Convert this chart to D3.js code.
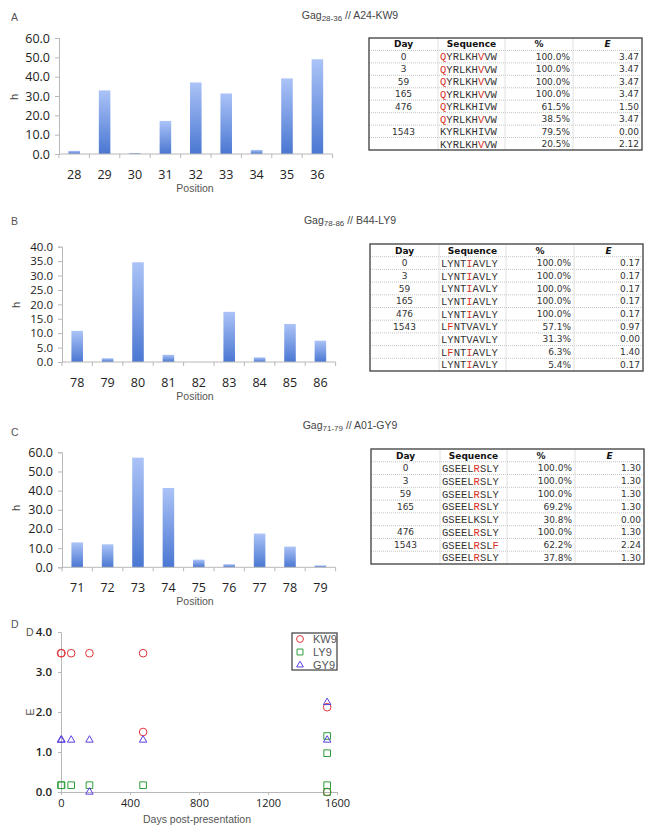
<!DOCTYPE html>
<html><head><meta charset="utf-8">
<script src="https://cdn.jsdelivr.net/npm/d3@7"></script>
<style>body{margin:0;background:#fff}svg{display:block}</style>
</head><body>
<svg id="c" width="654" height="832"></svg>
<script>
// ---------- DATA ----------
const posA = [28,29,30,31,32,33,34,35,36];
const hA   = [1.6,32.9,0.5,17.1,37.0,31.3,2.1,39.1,49.0];
const posB = [78,79,80,81,82,83,84,85,86];
const hB   = [10.8,1.3,34.6,2.5,0.0,17.4,1.6,13.2,7.4];
const posC = [71,72,73,74,75,76,77,78,79];
const hC   = [13.0,12.0,57.2,41.4,4.0,1.6,17.6,10.8,1.0];
const yTicksA = [0,10,20,30,40,50,60];
const yTicksB = [0,5,10,15,20,25,30,35,40];
const yTicksC = [0,10,20,30,40,50,60];

const headers = ["Day","Sequence","%","E"];
const dayA = ["0","3","59","165","476","","1543",""];
const seqA = ["QYRLKHVVW","QYRLKHVVW","QYRLKHVVW","QYRLKHVVW","QYRLKHIVW","QYRLKHVVW","KYRLKHIVW","KYRLKHVVW"];
const redA = [[0,6],[0,6],[0,6],[0,6],[0],[0,6],[],[6]];
const pctA = ["100.0%","100.0%","100.0%","100.0%","61.5%","38.5%","79.5%","20.5%"];
const eA   = [3.47,3.47,3.47,3.47,1.50,3.47,0.00,2.12];

const dayB = ["0","3","59","165","476","1543","","",""];
const seqB = ["LYNTIAVLY","LYNTIAVLY","LYNTIAVLY","LYNTIAVLY","LYNTIAVLY","LFNTVAVLY","LYNTVAVLY","LFNTIAVLY","LYNTIAVLY"];
const redB = [[4],[4],[4],[4],[4],[1],[],[1,4],[4]];
const pctB = ["100.0%","100.0%","100.0%","100.0%","100.0%","57.1%","31.3%","6.3%","5.4%"];
const eB   = [0.17,0.17,0.17,0.17,0.17,0.97,0.00,1.40,0.17];

const dayC = ["0","3","59","165","","476","1543",""];
const seqC = ["GSEELRSLY","GSEELRSLY","GSEELRSLY","GSEELRSLY","GSEELKSLY","GSEELRSLY","GSEELRSLF","GSEELRSLY"];
const redC = [[5],[5],[5],[5],[],[5],[5,8],[5]];
const pctC = ["100.0%","100.0%","100.0%","69.2%","30.8%","100.0%","62.2%","37.8%"];
const eC   = [1.30,1.30,1.30,1.30,0.00,1.30,2.24,1.30];

const seriesNames = ["KW9","LY9","GY9"];
const xTicksD = [0,400,800,1200,1600];
const yTicksD = [0,1,2,3,4];

// ---------- DRAW ----------
const svg = d3.select("#c");
const defs = svg.append("defs");
const grad = defs.append("linearGradient").attr("id","barg").attr("x1",0).attr("y1",0).attr("x2",0).attr("y2",1);
grad.append("stop").attr("offset","0%").attr("stop-color","#abc3f7");
grad.append("stop").attr("offset","100%").attr("stop-color","#4a77d2");

const tickFont = "'Open Sans', 'Liberation Sans', sans-serif";
const labFont = "'Liberation Sans', Arial, sans-serif";
const axisCol = "#b8b8b8";

function barPanel(o){
  const g = svg.append("g");
  const x = d3.scaleBand().domain(o.pos).range([o.x0, o.x0 + 30.4*o.pos.length]).paddingInner(0.62).paddingOuter(0.31);
  const y = d3.scaleLinear().domain([0, o.ymax]).range([o.y0, o.yTop]);
  g.selectAll("rect.bar").data(o.pos).join("rect")
    .attr("x", d => x(d)).attr("width", x.bandwidth())
    .attr("y", (d,i) => y(o.h[i])).attr("height", (d,i) => y(0) - y(o.h[i]))
    .attr("fill","url(#barg)");
  const ya = g.append("g").attr("transform",`translate(${o.x0},0)`)
    .call(d3.axisLeft(y).tickValues(o.ticks).tickFormat(d3.format(".1f")).tickSize(4).tickPadding(5));
  ya.select(".domain").attr("stroke",axisCol);
  ya.selectAll(".tick line").attr("stroke",axisCol);
  ya.selectAll("text").attr("font-family",tickFont).attr("font-size",o.yfs).attr("fill","#222");
  const xr = x.range();
  g.append("line").attr("x1",xr[0]).attr("x2",xr[1]).attr("y1",o.y0).attr("y2",o.y0).attr("stroke",axisCol);
  const step = x.step();
  g.selectAll("line.xt").data(d3.range(o.pos.length+1)).join("line")
    .attr("x1", i => xr[0] + i*step).attr("x2", i => xr[0] + i*step)
    .attr("y1", o.y0).attr("y2", o.y0+4).attr("stroke",axisCol);
  g.selectAll("text.xl").data(o.pos).join("text")
    .attr("x", d => x(d) + x.bandwidth()/2).attr("y", o.y0 + 25)
    .attr("text-anchor","middle").attr("font-family",tickFont).attr("font-size",12.5).attr("fill","#222")
    .text(d => d);
  g.append("text").attr("x",195).attr("y",o.y0+38).attr("text-anchor","middle")
    .attr("font-family",labFont).attr("font-size",10.5).attr("fill","#555").text("Position");
  g.append("text").attr("transform",`translate(${o.hx},${o.hy}) rotate(-90)`).attr("text-anchor","middle")
    .attr("dy","0.35em").attr("font-family",labFont).attr("font-size",11).attr("fill","#444").text("h");
  g.append("text").attr("x",11).attr("y",o.labY).attr("font-family",labFont).attr("font-size",10.5).attr("fill","#555").text(o.label);
  const t = g.append("text").attr("x",350).attr("y",o.titleY).attr("text-anchor","middle")
    .attr("font-family",labFont).attr("font-size",10.5).attr("fill","#444");
  t.append("tspan").text("Gag");
  t.append("tspan").attr("font-size",8).attr("dy",2).text(o.sub);
  t.append("tspan").attr("dy",-2).text(" // " + o.epi);
}

barPanel({pos:posA,h:hA,ymax:60,ticks:yTicksA,yfs:12.5,x0:59,y0:154,yTop:38,hx:14,hy:97,label:"A",labY:21,titleY:19,sub:"28-36",epi:"A24-KW9"});
barPanel({pos:posB,h:hB,ymax:40,ticks:yTicksB,yfs:11.5,x0:62,y0:362,yTop:246.7,hx:16,hy:305,label:"B",labY:225,titleY:224,sub:"78-86",epi:"B44-LY9"});
barPanel({pos:posC,h:hC,ymax:60,ticks:yTicksC,yfs:12.5,x0:62,y0:567.3,yTop:452.3,hx:16,hy:508,label:"C",labY:436,titleY:429,sub:"71-79",epi:"A01-GY9"});

function table(o){
  const g = svg.append("g");
  const n = o.day.length + 1;
  const widths = [69,67,68,69];
  const cols = [o.x];
  widths.forEach(w => cols.push(cols[cols.length-1] + w));
  const rh = (o.y1 - o.y0)/n;
  g.selectAll("line.h").data(d3.range(1,n)).join("line")
    .attr("x1",cols[0]).attr("x2",cols[4]).attr("y1",i=>o.y0+i*rh).attr("y2",i=>o.y0+i*rh)
    .attr("stroke","#b5b5b5").attr("stroke-width",0.8).attr("stroke-dasharray","1,1");
  g.selectAll("line.v").data([1,2,3]).join("line")
    .attr("x1",i=>cols[i]).attr("x2",i=>cols[i]).attr("y1",o.y0).attr("y2",o.y1)
    .attr("stroke","#d8d8d8").attr("stroke-width",0.8);
  g.append("rect").attr("x",cols[0]).attr("y",o.y0).attr("width",cols[4]-cols[0]).attr("height",o.y1-o.y0)
    .attr("fill","none").attr("stroke","#4a4a4a").attr("stroke-width",1.4);
  const numFont = "'DejaVu Sans', Verdana, sans-serif";
  headers.forEach((h,i) => {
    g.append("text").attr("x",(cols[i]+cols[i+1])/2).attr("y",o.y0+rh/2).attr("dy","0.36em")
      .attr("text-anchor","middle").attr("font-family",numFont).attr("font-weight","bold")
      .attr("font-style", h==="E" ? "italic" : "normal").attr("font-size",9).attr("fill","#111").text(h);
  });
  o.day.forEach((d,r) => {
    const cy = o.y0 + (r+1.5)*rh;
    g.append("text").attr("x",(cols[0]+cols[1])/2).attr("y",cy).attr("dy","0.36em").attr("text-anchor","middle")
      .attr("font-family",numFont).attr("font-size",9).attr("fill","#333").text(d);
    const st = g.append("text").attr("x",cols[1]+2).attr("y",cy).attr("dy","0.36em")
      .attr("font-family","'Liberation Mono','Courier New',monospace").attr("font-size",10.5);
    o.seq[r].split("").forEach((ch,k) => {
      st.append("tspan").attr("fill", o.red[r].includes(k) ? "#d9301e" : "#333").text(ch);
    });
    g.append("text").attr("x",cols[3]-3).attr("y",cy).attr("dy","0.36em").attr("text-anchor","end")
      .attr("font-family",numFont).attr("font-size",9).attr("fill","#333").text(o.pct[r]);
    g.append("text").attr("x",cols[4]-3).attr("y",cy).attr("dy","0.36em").attr("text-anchor","end")
      .attr("font-family",numFont).attr("font-size",9).attr("fill","#333").text(d3.format(".2f")(o.e[r]));
  });
}
table({x:369,y0:38,y1:150,day:dayA,seq:seqA,red:redA,pct:pctA,e:eA});
table({x:370,y0:244,y1:371,day:dayB,seq:seqB,red:redB,pct:pctB,e:eB});
table({x:371,y0:449,y1:564,day:dayC,seq:seqC,red:redC,pct:pctC,e:eC});

// ---------- PANEL D ----------
function toPoints(day, e){
  let last = null;
  return day.map((d,i) => { if (d !== "") last = +d; return {x:last, y:e[i]}; });
}
const series = [
  {name:seriesNames[0], pts:toPoints(dayA,eA), col:"#e0363a", sym:d3.symbolCircle, sz:46},
  {name:seriesNames[1], pts:toPoints(dayB,eB), col:"#2e9e3a", sym:d3.symbolSquare, sz:44},
  {name:seriesNames[2], pts:toPoints(dayC,eC), col:"#5a3fe0", sym:d3.symbolTriangle, sz:24}
];
const gD = svg.append("g");
const xD = d3.scaleLinear().domain([0,1600]).range([61,337]);
const yD = d3.scaleLinear().domain([0,4]).range([792,632]);
const xa = gD.append("g").attr("transform","translate(0,792)")
  .call(d3.axisBottom(xD).tickValues(xTicksD).tickFormat(d3.format("d")).tickSize(3).tickPadding(4));
xa.select(".domain").attr("stroke",axisCol);
xa.selectAll(".tick line").attr("stroke",axisCol);
xa.selectAll("text").attr("font-family",tickFont).attr("font-size",11).attr("fill","#222");
const yaD = gD.append("g").attr("transform","translate(61,0)")
  .call(d3.axisLeft(yD).tickValues(yTicksD).tickFormat(d3.format(".1f")).tickSize(3).tickPadding(6));
yaD.select(".domain").attr("stroke",axisCol);
yaD.selectAll(".tick line").attr("stroke",axisCol);
yaD.selectAll("text").attr("font-family",tickFont).attr("font-size",11.5).attr("font-weight",600).attr("fill","#222");
gD.append("text").attr("x",197).attr("y",823).attr("text-anchor","middle").attr("font-family",labFont)
  .attr("font-size",10.5).attr("fill","#555").text("Days post-presentation");
gD.append("text").attr("transform","translate(30,712) rotate(-90)").attr("text-anchor","middle").attr("dy","0.35em")
  .attr("font-family",labFont).attr("font-size",10.5).attr("fill","#555").text("E");
gD.append("text").attr("x",11).attr("y",628).attr("font-family",labFont).attr("font-size",10.5).attr("fill","#555").text("D");
gD.append("text").attr("x",26).attr("y",636).attr("font-family",labFont).attr("font-size",10.5).attr("fill","#555").text("D");
series.forEach(s => {
  gD.selectAll(null).data(s.pts).join("path")
    .attr("transform", p => `translate(${xD(p.x)},${yD(p.y)})`)
    .attr("d", d3.symbol().type(s.sym).size(s.sz))
    .attr("fill","none").attr("stroke",s.col).attr("stroke-width",1);
});
const lg = gD.append("g");
lg.append("rect").attr("x",292).attr("y",633).attr("width",45).attr("height",37)
  .attr("fill","#fff").attr("stroke","#4a4a4a").attr("stroke-width",1.3);
series.forEach((s,i) => {
  const cy = 639 + i*13;
  lg.append("path").attr("transform",`translate(300,${cy})`).attr("d",d3.symbol().type(s.sym).size(s.sz*0.8))
    .attr("fill","none").attr("stroke",s.col).attr("stroke-width",1);
  lg.append("text").attr("x",313).attr("y",cy).attr("dy","0.36em").attr("font-family",labFont)
    .attr("font-size",11).attr("fill","#555").text(s.name);
});
</script>
</body></html>
